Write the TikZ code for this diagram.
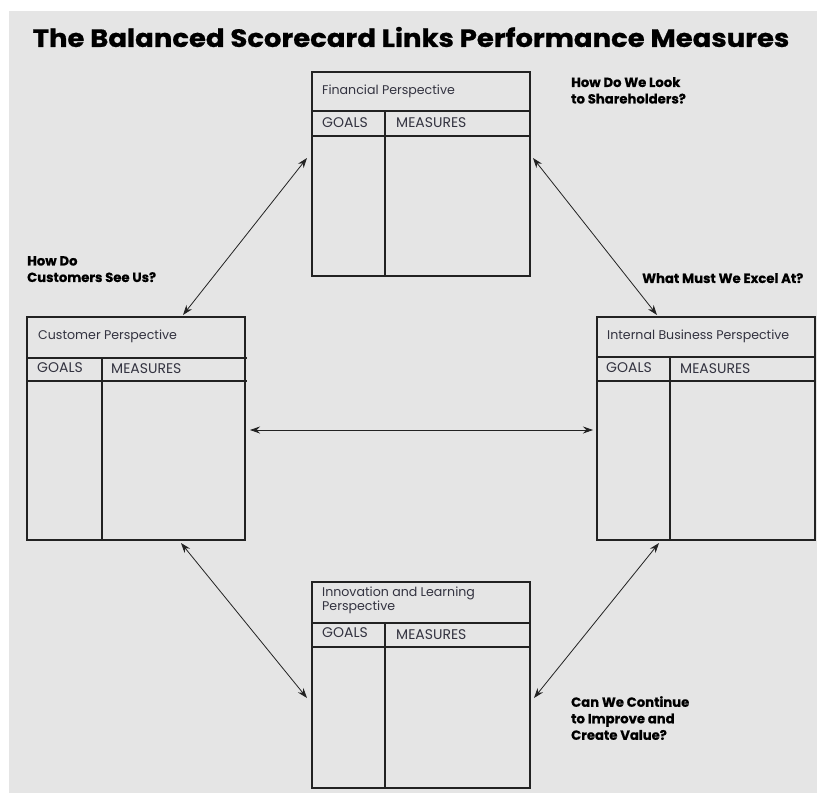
\documentclass[tikz,border=0pt]{standalone}
\usepackage{fontspec}
\usepackage{graphicx}
\setmainfont{Poppins}
\usetikzlibrary{arrows.meta,calc}
\definecolor{bg}{HTML}{E5E5E5}
\definecolor{ink}{HTML}{222222}
\definecolor{txt}{HTML}{333340}
\begin{document}
\begin{tikzpicture}[x=1pt,y=-1pt,
  card/.style={draw=ink,line width=1.3pt,rectangle,inner sep=0pt,outer sep=0pt,anchor=north west},
  rule/.style={draw=ink,line width=1.3pt},
  celltext/.style={anchor=west,inner sep=0pt,font=\fontsize{12.6}{14}\selectfont,text=txt},
  headtext/.style={anchor=west,inner sep=0pt,font=\fontsize{14}{15}\selectfont,text=txt},
  question/.style={anchor=north west,inner sep=0pt,align=left,font=\fontsize{13.2}{16.5}\selectfont\bfseries\addfontfeatures{FakeBold=0.6},text=black},
  link/.style={draw=ink,line width=0.8pt,{Stealth[length=10pt,width=7pt]}-{Stealth[length=10pt,width=7pt]}}]
\useasboundingbox (0,0) rectangle (817,793);
\fill[white] (0,0) rectangle (817,793);
\fill[bg] (9,11) rectangle (817,793);

\node[inner sep=0pt,font=\fontsize{25}{28}\selectfont\bfseries\addfontfeatures{FakeBold=0.8}] (title) at (411,37) {\scalebox{1.1}[1]{The Balanced Scorecard Links Performance Measures}};

% Financial
\node[card,minimum width=218pt,minimum height=204pt] (fin) at (312,72) {};
\draw[rule] ($(fin.north west)+(0,39)$) -- ($(fin.north east)+(0,39)$);
\draw[rule] ($(fin.north west)+(0,64)$) -- ($(fin.north east)+(0,64)$);
\draw[rule] ($(fin.north west)+(73,39)$) -- ($(fin.south west)+(73,0)$);
\node[celltext] (finT) at ($(fin.north west)+(10,19)$) {Financial Perspective};
\node[headtext] (finG) at ($(fin.north west)+(10,51)$) {GOALS};
\node[headtext] (finM) at ($(fin.north west)+(84,51)$) {MEASURES};

% Customer
\node[card,minimum width=218pt,minimum height=223pt] (cus) at (27,317) {};
\draw[rule] ($(cus.north west)+(0,41)$) -- ($(cus.north east)+(2,41)$);
\draw[rule] ($(cus.north west)+(0,64)$) -- ($(cus.north east)+(2,64)$);
\draw[rule] ($(cus.north west)+(75,41)$) -- ($(cus.south west)+(75,0)$);
\node[celltext] (cusT) at ($(cus.north west)+(11,19)$) {Customer Perspective};
\node[headtext] (cusG) at ($(cus.north west)+(10,51)$) {GOALS};
\node[headtext] (cusM) at ($(cus.north west)+(84,52)$) {MEASURES};

% Internal
\node[card,minimum width=218pt,minimum height=223pt] (int) at (597,317) {};
\draw[rule] ($(int.north west)+(0,40)$) -- ($(int.north east)+(0,40)$);
\draw[rule] ($(int.north west)+(0,64)$) -- ($(int.north east)+(0,64)$);
\draw[rule] ($(int.north west)+(73,40)$) -- ($(int.south west)+(73,0)$);
\node[celltext] (intT) at ($(int.north west)+(10,19)$) {Internal Business Perspective};
\node[headtext] (intG) at ($(int.north west)+(9,51)$) {GOALS};
\node[headtext] (intM) at ($(int.north west)+(83,52)$) {MEASURES};

% Innovation
\node[card,minimum width=218pt,minimum height=206pt] (inn) at (312,582) {};
\draw[rule] ($(inn.north west)+(0,41)$) -- ($(inn.north east)+(0,41)$);
\draw[rule] ($(inn.north west)+(0,65)$) -- ($(inn.north east)+(0,65)$);
\draw[rule] ($(inn.north west)+(73,41)$) -- ($(inn.south west)+(73,0)$);
\node[celltext,anchor=north west,align=left,font=\fontsize{12.6}{12.5}\selectfont] (innT) at ($(inn.north west)+(10,5)$) {Innovation and Learning\\Perspective};
\node[headtext] (innG) at ($(inn.north west)+(10,51)$) {GOALS};
\node[headtext] (innM) at ($(inn.north west)+(84,53)$) {MEASURES};

% Links
\draw[link] ($(fin.north west)+(-5,86)$) -- ($(cus.north west)+(156,-2)$);
\draw[link] ($(fin.north east)+(3,86)$) -- ($(int.north west)+(60,-2)$);
\draw[link] ($(cus.north east)+(5,113)$) -- ($(int.north west)+(-4,113)$);
\draw[link] ($(cus.south west)+(154,3)$) -- ($(inn.north west)+(-5,116)$);
\draw[link] ($(int.south west)+(62,3)$) -- ($(inn.north east)+(4,116)$);

% Questions
\node[question] (q1) at (571,77) {How Do We Look\\to Shareholders?};
\node[question] (q2) at (27,256) {How Do\\Customers See Us?};
\node[question] (q3) at (642,273) {What Must We Excel At?};
\node[question] (q4) at (571,696) {Can We Continue\\to Improve and\\Create Value?};
\end{tikzpicture}
\end{document}
